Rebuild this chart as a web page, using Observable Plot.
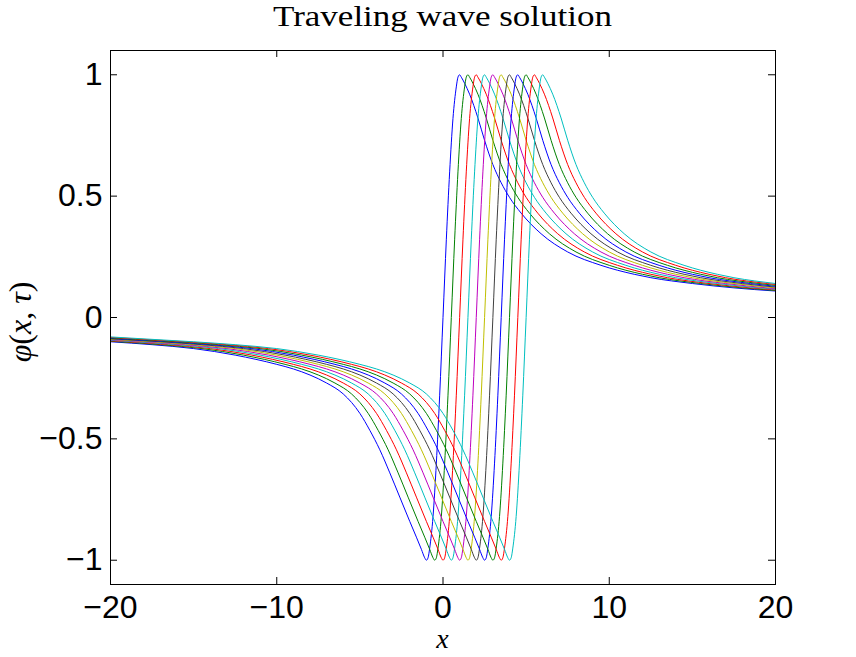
<!DOCTYPE html>
<html><head><meta charset="utf-8">
<script src="https://cdn.jsdelivr.net/npm/d3@7"></script>
<script src="https://cdn.jsdelivr.net/npm/@observablehq/plot@0.6"></script>
<style>
body{margin:0;background:#fff}
#chart{position:relative;width:856px;height:657px}
</style>
</head><body><div id="chart"></div>
<script>
// traveling wave: one read profile (first, blue curve) and the shift of each later curve
const waveShifts = [0, 0.5, 1, 1.5, 2, 2.5, 3, 3.5, 4, 4.5, 5];
const seriesColors = ["#0000ff","#008000","#ff0000","#00bfbf","#bf00bf","#bfbf00","#404040","#0000ff","#008000","#ff0000","#00bfbf"];
const profileS = [-25, -22.5, -20, -17.5, -15, -12.5, -10, -9, -8, -7, -6, -5, -4.4, -3.8, -3.2, -2.6, -2, -1.6, -1.3, -1.1, -1, -0.9, -0.8, -0.6, -0.4, -0.2, 0, 0.2, 0.4, 0.6, 0.8, 0.9, 1, 1.1, 1.3, 1.6, 2.1, 2.5, 3, 3.5, 4, 4.7, 5.9, 7.5, 9.5, 11.5, 12.5, 15, 17.5, 20];
const profilePhi = [-0.08, -0.09, -0.10, -0.112, -0.128, -0.155, -0.193, -0.212, -0.237, -0.27, -0.315, -0.395, -0.465, -0.545, -0.64, -0.74, -0.84, -0.905, -0.955, -0.99, -1.0, -0.99, -0.95, -0.82, -0.6, -0.32, 0, 0.32, 0.6, 0.82, 0.95, 0.99, 1.0, 0.99, 0.965, 0.92, 0.822, 0.73, 0.63, 0.555, 0.495, 0.43, 0.345, 0.27, 0.215, 0.178, 0.164, 0.14, 0.122, 0.109];
const xTicks = [-20, -10, 0, 10, 20];
const xTickLabels = ["−20", "−10", "0", "10", "20"];
const yTicks = [-1, -0.5, 0, 0.5, 1];
const yTickLabels = ["−1", "−0.5", "0", "0.5", "1"];
const titleText = "Traveling wave solution";

const series = waveShifts.map((c, k) => profileS.map((s, i) => ({x: s + c, y: profilePhi[i], k})));

const svg = Plot.plot({
  width: 856, height: 657,
  marginLeft: 110, marginRight: 81, marginTop: 50, marginBottom: 73,
  style: {fontFamily: "'Liberation Sans', Arial, sans-serif", fontSize: "32px", background: "#fff", color: "#000"},
  x: {domain: [-20, 20], label: null},
  y: {domain: [-1.1, 1.1], label: null},
  marks: [
    ...series.map((data, k) => Plot.line(data, {x: "x", y: "y", stroke: seriesColors[k], strokeWidth: 1, curve: "monotone-x", clip: true})),
    Plot.frame({stroke: "#000", strokeWidth: 1}),
    Plot.tickX(xTicks, {x: d => d, insetTop: 527, stroke: "#000"}),
    Plot.tickX(xTicks, {x: d => d, insetBottom: 527, stroke: "#000"}),
    Plot.tickY(yTicks, {y: d => d, insetRight: 658, stroke: "#000"}),
    Plot.tickY(yTicks, {y: d => d, insetLeft: 658, stroke: "#000"}),
    Plot.axisX({ticks: xTicks, tickFormat: d => xTickLabels[xTicks.indexOf(d)], tickSize: 0, tickPadding: 11, fontSize: 32}),
    Plot.axisY({ticks: yTicks, tickFormat: d => yTickLabels[yTicks.indexOf(d)], tickSize: 0, tickPadding: 8, fontSize: 32})
  ]
});
document.getElementById("chart").appendChild(svg);

const root = d3.select(svg);
root.append("text")
  .attr("x", 442.5).attr("y", 26)
  .attr("text-anchor", "middle")
  .attr("font-family", "'Liberation Serif', serif")
  .attr("font-size", 30)
  .attr("textLength", 339).attr("lengthAdjust", "spacingAndGlyphs")
  .attr("fill", "#000")
  .text(titleText);

root.append("text")
  .attr("x", 442.5).attr("y", 648)
  .attr("text-anchor", "middle")
  .attr("font-family", "'Liberation Serif', serif")
  .attr("font-size", 28).attr("font-style", "italic")
  .attr("fill", "#000")
  .text("x");

const yl = root.append("text")
  .attr("transform", "translate(31,322) rotate(-90)")
  .attr("text-anchor", "middle")
  .attr("font-family", "'Liberation Serif', serif")
  .attr("font-size", 32)
  .attr("fill", "#000");
yl.append("tspan").attr("font-style", "italic").text("φ");
yl.append("tspan").text("(");
yl.append("tspan").attr("font-style", "italic").text("x");
yl.append("tspan").text(", ");
yl.append("tspan").attr("font-style", "italic").text("τ");
yl.append("tspan").text(")");
</script>
</body></html>
